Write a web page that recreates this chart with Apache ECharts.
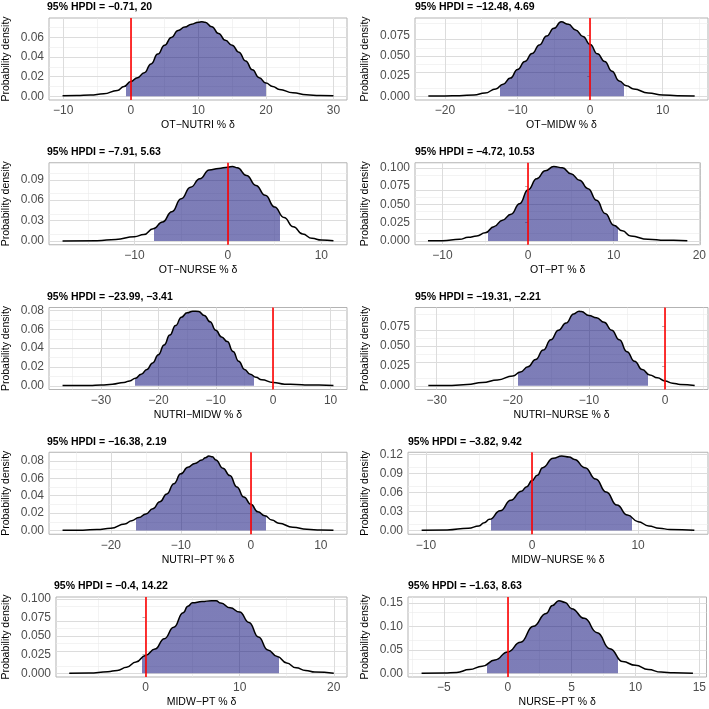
<!DOCTYPE html>
<html>
<head>
<meta charset="utf-8">
<script src="https://cdn.jsdelivr.net/npm/echarts@6/dist/echarts.min.js"></script>
<style>
	html, body { margin: 0; padding: 0; background: #fff; }
	#main { width: 709px; height: 709px; }
</style>
</head>
<body>
<div id="main"></div>
<script>
// posterior densities: [delta %, density]
const otNutri = [[-10.1, 0.0005], [-8, 0.0008], [-6, 0.0012], [-4, 0.0025], [-2, 0.006], [-1, 0.01], [0, 0.015], [1, 0.019], [2, 0.024], [3, 0.033], [4, 0.043], [5, 0.052], [6, 0.06], [7, 0.067], [8, 0.0705], [9, 0.0735], [10, 0.0755], [10.5, 0.076], [11, 0.0755], [12, 0.071], [13, 0.064], [14, 0.057], [15, 0.052], [16, 0.045], [17, 0.036], [18, 0.027], [19, 0.019], [20, 0.0135], [21, 0.01], [22, 0.007], [24, 0.0035], [26, 0.0015], [28, 0.0008], [30, 0.0005]];
const otMidw = [[-22.3, 0.0002], [-20, 0.0004], [-18, 0.0008], [-16, 0.0016], [-14.5, 0.004], [-13, 0.009], [-12, 0.015], [-11, 0.0225], [-10, 0.033], [-9, 0.043], [-8, 0.053], [-7, 0.0635], [-6, 0.0745], [-5, 0.084], [-4, 0.0922], [-3, 0.089], [-2, 0.082], [-1, 0.074], [0, 0.064], [1, 0.0525], [2, 0.043], [3, 0.031], [4, 0.019], [5, 0.013], [6, 0.009], [8, 0.0041], [10, 0.0016], [12, 0.0008], [14.4, 0.0003]];
const otNurse = [[-17.7, 0.0002], [-14, 0.0005], [-12, 0.0024], [-10, 0.0063], [-9, 0.0095], [-8, 0.018], [-7, 0.028], [-6, 0.043], [-5, 0.062], [-4, 0.079], [-3, 0.0915], [-2, 0.1045], [-1, 0.1066], [0, 0.1085], [0.5, 0.1095], [1, 0.1075], [2, 0.0963], [3, 0.0817], [4, 0.0672], [5, 0.05], [6, 0.0345], [7, 0.021], [8, 0.0102], [9, 0.0039], [10, 0.0015], [11.3, 0.0003]];
const otPt = [[-11.7, 0.0003], [-10, 0.0005], [-8, 0.0023], [-7, 0.005], [-6, 0.0068], [-5, 0.0113], [-4, 0.0195], [-3, 0.0285], [-2, 0.0367], [-1, 0.051], [0, 0.07], [1, 0.085], [2, 0.096], [3, 0.1018], [4, 0.1], [5, 0.092], [6, 0.083], [7, 0.0715], [8, 0.0557], [9, 0.0376], [10, 0.0217], [11, 0.014], [12, 0.0068], [14, 0.0023], [16, 0.0009], [17, 0.001], [18.6, 0.0003]];
const nutriMidw = [[-36.7, 0.0003], [-32, 0.0003], [-30, 0.0007], [-28, 0.0017], [-26, 0.0035], [-25, 0.0052], [-24, 0.008], [-23, 0.0122], [-22, 0.0174], [-21, 0.0243], [-20, 0.033], [-19, 0.0435], [-18, 0.054], [-17, 0.064], [-16, 0.073], [-15, 0.0776], [-14, 0.0793], [-13, 0.079], [-12, 0.0748], [-11, 0.068], [-10, 0.059], [-9, 0.052], [-8, 0.047], [-7, 0.0365], [-6, 0.026], [-5, 0.0174], [-4, 0.0122], [-3, 0.009], [-2, 0.0063], [0, 0.0035], [2, 0.0017], [4, 0.0014], [6, 0.0007], [8, 0.0007], [10.5, 0.0004]];
const nutriNurse = [[-31.1, 0.0002], [-28, 0.0004], [-26, 0.0016], [-24, 0.004], [-22, 0.0074], [-20, 0.0124], [-19, 0.0173], [-18, 0.024], [-17, 0.033], [-16, 0.045], [-15, 0.058], [-14, 0.07], [-13, 0.079], [-12, 0.0906], [-11.3, 0.094], [-11, 0.0935], [-10, 0.0886], [-9, 0.0857], [-8, 0.08], [-7, 0.07], [-6, 0.058], [-5, 0.043], [-4, 0.031], [-3, 0.0206], [-2, 0.0135], [-1, 0.01], [0, 0.006], [1, 0.0033], [2, 0.0016], [3.9, 0.0004]];
const nutriPt = [[-26.9, 0.0003], [-24, 0.0004], [-22, 0.0011], [-20, 0.0026], [-18, 0.0075], [-17, 0.0113], [-16, 0.015], [-15, 0.019], [-14, 0.025], [-13, 0.033], [-12, 0.042], [-11, 0.0536], [-10, 0.065], [-9, 0.0725], [-8, 0.077], [-7, 0.0808], [-6.5, 0.0835], [-6, 0.0855], [-5.5, 0.0845], [-5, 0.081], [-4, 0.0715], [-3, 0.063], [-2, 0.05], [-1, 0.0385], [0, 0.03], [1, 0.0215], [2, 0.017], [3, 0.012], [4, 0.0083], [6, 0.0038], [8, 0.0015], [10, 0.0005], [11.8, 0.0003]];
const midwNurse = [[-10.4, 0.0003], [-8, 0.001], [-6, 0.0036], [-5, 0.0072], [-4.5, 0.0124], [-4, 0.0176], [-3, 0.031], [-2, 0.0476], [-1, 0.062], [-0.5, 0.069], [0, 0.0786], [0.5, 0.087], [1, 0.099], [2, 0.1138], [2.8, 0.1174], [3.5, 0.1159], [4, 0.112], [5, 0.099], [6, 0.081], [7, 0.0605], [8, 0.04], [9, 0.0243], [10, 0.014], [11, 0.0072], [12, 0.0036], [13, 0.0016], [15.3, 0.0003]];
const midwPt = [[-8.1, 0.0003], [-6, 0.0004], [-4, 0.0022], [-3, 0.004], [-2, 0.0083], [-1, 0.0152], [0, 0.024], [1, 0.0326], [2, 0.0465], [3, 0.0617], [4, 0.0813], [4.5, 0.09], [5, 0.0945], [6, 0.0962], [7, 0.0975], [7.5, 0.0972], [8, 0.0943], [9, 0.0878], [10, 0.0822], [11, 0.0683], [12, 0.0487], [13, 0.0313], [14, 0.0226], [15, 0.0139], [16, 0.0074], [17, 0.004], [18, 0.0017], [20, 0.0003]];
const nursePt = [[-6.75, 0.0003], [-5, 0.0007], [-4, 0.002], [-3, 0.008], [-2, 0.015], [-1, 0.0286], [0, 0.0457], [1, 0.066], [2, 0.1], [3, 0.1275], [3.5, 0.1445], [4, 0.1547], [4.5, 0.151], [5, 0.1377], [6, 0.117], [7, 0.0866], [8, 0.0525], [9, 0.025], [10, 0.017], [11, 0.008], [12, 0.0027], [13, 0.0014], [14.5, 0.0003]];

const curves = [otNutri, otMidw, otNurse, otPt, nutriMidw, nutriNurse, nutriPt, midwNurse, midwPt, nursePt];
const labels = ['OT−NUTRI % δ', 'OT−MIDW % δ', 'OT−NURSE % δ', 'OT−PT % δ', 'NUTRI−MIDW % δ', 'NUTRI−NURSE % δ', 'NUTRI−PT % δ', 'MIDW−NURSE % δ', 'MIDW−PT % δ', 'NURSE−PT % δ'];
const hpdi = [[-0.71, 20], [-12.48, 4.69], [-7.91, 5.63], [-4.72, 10.53], [-23.99, -3.41], [-19.31, -2.21], [-16.38, 2.19], [-3.82, 9.42], [-0.4, 14.22], [-1.63, 8.63]];
const xTicks = [[-10, 0, 10, 20, 30], [-20, -10, 0, 10], [-10, 0, 10], [-10, 0, 10, 20], [-30, -20, -10, 0, 10], [-30, -20, -10, 0], [-20, -10, 0, 10], [-10, 0, 10], [0, 10, 20], [-5, 0, 5, 10, 15]];
const yTicks = [[0, 0.02, 0.04, 0.06], [0, 0.025, 0.05, 0.075], [0, 0.03, 0.06, 0.09], [0, 0.025, 0.05, 0.075, 0.1], [0, 0.02, 0.04, 0.06, 0.08], [0, 0.025, 0.05, 0.075], [0, 0.02, 0.04, 0.06, 0.08], [0, 0.03, 0.06, 0.09, 0.12], [0, 0.025, 0.05, 0.075, 0.1], [0, 0.05, 0.1, 0.15]];

const FONT = '"Liberation Sans", Arial, Helvetica, sans-serif';
const FILL = 'rgba(10, 10, 120, 0.53)';
const major = { color: '#dcdcdc', width: 1, type: 'solid' };
const minor = { color: '#ebebeb', width: 0.6, type: 'solid' };

const minus = (v) => (v < 0 ? '\u2212' + String(-v) : String(v));
const decimals = (arr) => Math.max(...arr.map((v) => (String(v).split('.')[1] || '').length));
// ggplot style minor breaks: halfway between majors
const minorOf = (ticks, lo, hi) => {
	const step = ticks[1] - ticks[0];
	const out = [];
	for (let k = -1; k < ticks.length; k++) {
		const v = +(ticks[0] + step * (k + 0.5)).toFixed(6);
		if (v > lo && v < hi) out.push(v);
	}
	return out;
};

const grids = [], titles = [], xAxes = [], yAxes = [], series = [], visualMaps = [];

curves.forEach((curve, i) => {
	const r = Math.floor(i / 2);
	const c = i % 2;
	const colX = c ? 361 : 0;
	const dec = decimals(yTicks[i]);
	const left = colX + (dec === 3 ? 54 : 47);
	const right = colX + 347;
	const top = 18 + r * 144.75;

	const xs = curve.map((p) => p[0]);
	const ys = curve.map((p) => p[1]);
	const x0 = Math.min(...xs), x1 = Math.max(...xs);
	const pad = (x1 - x0) * 0.05;
	const peak = Math.max(...ys);
	const xMin = x0 - pad, xMax = x1 + pad;
	const yMin = -0.05 * peak, yMax = 1.05 * peak;

	grids.push({
		left: left, top: top, width: right - left, height: 82,
		show: true, borderColor: '#b3b3b3', borderWidth: 1, backgroundColor: '#fff'
	});

	titles.push({
		text: '95% HPDI = ' + minus(hpdi[i][0]) + ', ' + minus(hpdi[i][1]),
		left: left, top: top - 16, padding: 0,
		textStyle: { fontFamily: FONT, fontSize: 10.5, fontWeight: 'bold', color: '#000' }
	});

	const xt = xTicks[i].filter((v) => v >= xMin && v <= xMax);
	const yt = yTicks[i].filter((v) => v >= yMin && v <= yMax);

	xAxes.push({
		gridIndex: i, type: 'value', min: xMin, max: xMax,
		axisLine: { show: false },
		axisTick: { show: true, length: 3, customValues: xt, lineStyle: { color: '#b3b3b3' } },
		axisLabel: { customValues: xt, formatter: minus, color: '#4d4d4d', fontSize: 12, fontFamily: FONT, margin: 5 },
		splitLine: { show: false },
		name: labels[i], nameLocation: 'middle', nameGap: 20,
		nameTextStyle: { color: '#000', fontSize: 10.5, fontFamily: FONT }
	});

	yAxes.push({
		gridIndex: i, type: 'value', min: yMin, max: yMax,
		axisLine: { show: false },
		axisTick: { show: true, length: 3, customValues: yt, lineStyle: { color: '#b3b3b3' } },
		axisLabel: { customValues: yt, formatter: (v) => v.toFixed(dec), color: '#4d4d4d', fontSize: 12, fontFamily: FONT, margin: 5 },
		splitLine: { show: false },
		name: 'Probability density', nameLocation: 'middle', nameGap: left - colX - 10,
		nameTextStyle: { color: '#000', fontSize: 10.5, fontFamily: FONT }
	});

	// background grid lines
	const gridLines = []
		.concat(minorOf(xt, xMin, xMax).map((v) => ({ xAxis: v, lineStyle: minor })))
		.concat(minorOf(yt, yMin, yMax).map((v) => ({ yAxis: v, lineStyle: minor })))
		.concat(xt.map((v) => ({ xAxis: v, lineStyle: major })))
		.concat(yt.map((v) => ({ yAxis: v, lineStyle: major })));

	series.push({
		type: 'line', xAxisIndex: i, yAxisIndex: i, data: curve,
		symbol: 'none', silent: true, z: 1,
		lineStyle: { opacity: 0 },
		markLine: { silent: true, z: 1, symbol: ['none', 'none'], label: { show: false }, data: gridLines }
	});

	series.push({
		type: 'line', xAxisIndex: i, yAxisIndex: i, data: curve,
		symbol: 'none', silent: true, z: 3,
		smooth: 0.5, smoothMonotone: 'x',
		lineStyle: { color: '#000', width: 1.5 },
		areaStyle: { opacity: 1 },
		markLine: {
			silent: true, symbol: ['none', 'none'], label: { show: false },
			lineStyle: { color: '#ff0000', width: 1.6, type: 'solid' },
			data: [{ xAxis: 0 }]
		}
	});

	// shade only the HPDI part of the curve
	visualMaps.push({
		type: 'piecewise', show: false, dimension: 0, seriesIndex: series.length - 1,
		pieces: [{ gte: hpdi[i][0], lte: hpdi[i][1], color: FILL }],
		outOfRange: { color: 'rgba(0,0,0,0)' }
	});
});

const myChart = echarts.init(document.getElementById('main'));
myChart.setOption({
	animation: false,
	backgroundColor: '#fff',
	title: titles,
	grid: grids,
	xAxis: xAxes,
	yAxis: yAxes,
	visualMap: visualMaps,
	series: series
});
</script>
</body>
</html>
